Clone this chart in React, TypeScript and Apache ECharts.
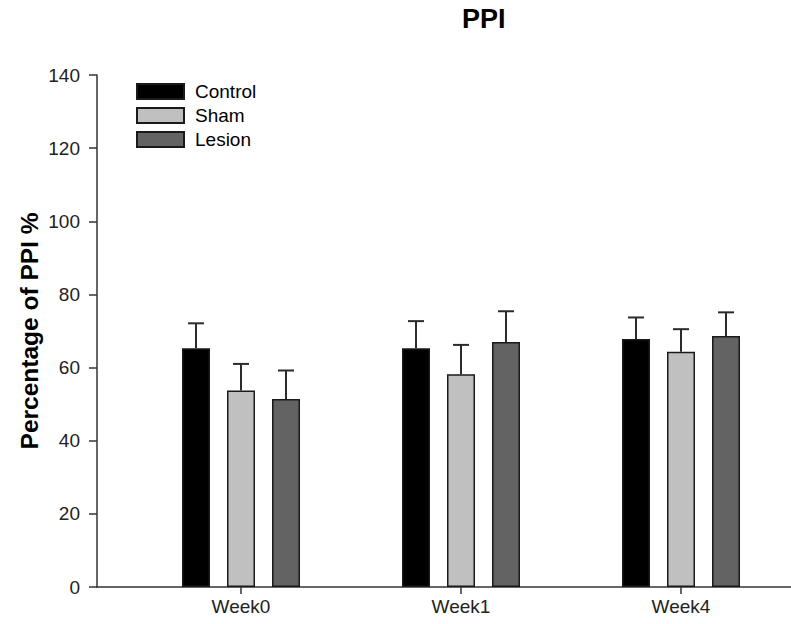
import React, { useEffect, useRef } from "react";
import * as echarts from "echarts";

const categories = ["Week0", "Week1", "Week4"];
const seriesNames = ["Control", "Sham", "Lesion"];
const controlMean = [65.3, 65.3, 67.8];
const controlUpper = [72.1, 72.7, 73.7];
const shamMean = [53.7, 58.2, 64.3];
const shamUpper = [61.0, 66.2, 70.5];
const lesionMean = [51.4, 67.0, 68.6];
const lesionUpper = [59.2, 75.4, 75.1];
const yTicks = [0, 20, 40, 60, 80, 100, 120, 140];

const colors = ["#000000", "#c0c0c0", "#636363"];
const BAR_W = 28;
const BAR_GAP = 17;
const FONT = "Liberation Sans, Arial, sans-serif";

export default function App() {
  const ref = useRef<HTMLDivElement>(null);
  useEffect(() => {
    if (!ref.current) return;
    const chart = echarts.init(ref.current, null, { renderer: "svg" });
    const means = [controlMean, shamMean, lesionMean];
    const uppers = [controlUpper, shamUpper, lesionUpper];
    const yMin = yTicks[0];
    const yMax = yTicks[yTicks.length - 1];
    const yInterval = yTicks[1] - yTicks[0];

    const barSeries = seriesNames.map((name, i) => ({
      name,
      type: "bar",
      xAxisIndex: 1,
      yAxisIndex: 1,
      barWidth: BAR_W,
      barGap: `${(BAR_GAP / BAR_W) * 100}%`,
      data: means[i],
      itemStyle: { color: colors[i], borderColor: "#1a1a1a", borderWidth: 1.5 },
      z: 2,
    }));

    const errSeries = seriesNames.map((name, i) => ({
      name: name + "-err",
      type: "custom",
      xAxisIndex: 1,
      yAxisIndex: 1,
      z: 1,
      data: categories.map((_, c) => [c, means[i][c], uppers[i][c]]),
      renderItem: (params: any, api: any) => {
        const off = (i - 1) * (BAR_W + BAR_GAP);
        const top = api.coord([api.value(0), api.value(1)]);
        const up = api.coord([api.value(0), api.value(2)]);
        const x = top[0] + off;
        const style = { stroke: "#2b2b2b", lineWidth: 2 };
        return {
          type: "group",
          children: [
            { type: "line", shape: { x1: x, y1: top[1], x2: x, y2: up[1] }, style },
            { type: "line", shape: { x1: x - 8, y1: up[1], x2: x + 8, y2: up[1] }, style },
          ],
        };
      },
    }));

    chart.setOption({
      animation: false,
      backgroundColor: "#ffffff",
      title: {
        text: "PPI",
        left: 462,
        top: 5,
        padding: 0,
        textStyle: { fontFamily: FONT, fontSize: 27, fontWeight: "bold", color: "#000" },
      },
      legend: {
        data: seriesNames,
        orient: "vertical",
        left: 136,
        top: 82,
        padding: 0,
        icon: "rect",
        itemWidth: 47,
        itemHeight: 15,
        itemGap: 5,
        selectedMode: false,
        textStyle: {
          fontFamily: FONT,
          fontSize: 19,
          lineHeight: 15,
          color: "#000",
          padding: [0, 0, 0, 6],
        },
      },
      grid: [
        { left: 97, right: 0, top: 75, bottom: 37 },
        { left: 131, right: -4.5, top: 75, bottom: 37 },
      ],
      xAxis: [
        {
          type: "value",
          gridIndex: 0,
          min: 0,
          max: 1,
          axisLine: { show: true, lineStyle: { color: "#333", width: 1.5 } },
          axisTick: { show: false },
          axisLabel: { show: false },
          splitLine: { show: false },
        },
        {
          type: "category",
          gridIndex: 1,
          data: categories,
          axisLine: { show: false },
          axisTick: { show: true, alignWithLabel: true, length: 7, lineStyle: { color: "#333", width: 1.5 } },
          axisLabel: { fontFamily: FONT, fontSize: 19, color: "#222", margin: 10 },
          splitLine: { show: false },
        },
      ],
      yAxis: [
        {
          type: "value",
          gridIndex: 0,
          min: yMin,
          max: yMax,
          interval: yInterval,
          name: "Percentage of PPI %",
          nameLocation: "middle",
          nameGap: 55,
          nameMoveOverlap: false,
          nameTextStyle: { fontFamily: FONT, fontSize: 24.5, fontWeight: "bold", color: "#000" },
          axisLine: { show: true, lineStyle: { color: "#333", width: 1.5 } },
          axisTick: { show: true, length: 8, lineStyle: { color: "#333", width: 1.5 } },
          axisLabel: { fontFamily: FONT, fontSize: 19, color: "#222", margin: 17 },
          splitLine: { show: false },
        },
        {
          type: "value",
          gridIndex: 1,
          min: yMin,
          max: yMax,
          interval: yInterval,
          show: false,
          splitLine: { show: false },
        },
      ],
      series: [...errSeries, ...barSeries],
    });
    return () => chart.dispose();
  }, []);
  return (
    <div
      ref={ref}
      style={{ position: "fixed", left: 0, top: 0, width: 791, height: 624, background: "#fff" }}
    />
  );
}
